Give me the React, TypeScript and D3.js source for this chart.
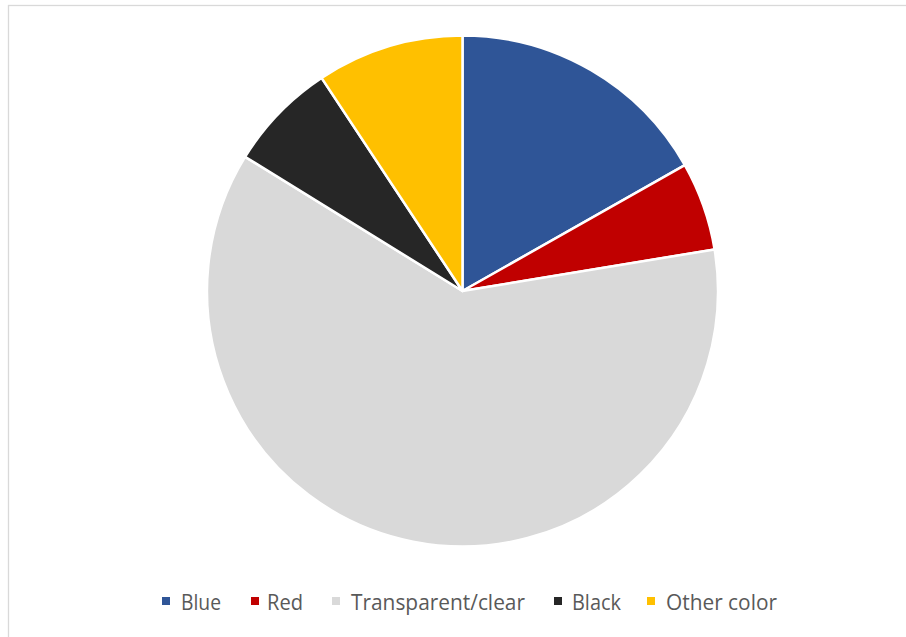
import React from "react";
import * as d3 from "d3";

const categories = ["Blue", "Red", "Transparent/clear", "Black", "Other color"];
const values = [16.8, 5.6, 61.4, 6.9, 9.3];
const colors = ["#2F5597", "#C00000", "#D9D9D9", "#262626", "#FFC000"];
const markerX = [162, 251, 332, 554, 647];
const textX = [181, 267, 351, 572, 666];
const legendW = [40, 36, 174, 49, 111];

export default function App() {
  const W = 906, H = 637;
  const cx = 462.5, cy = 291, r = 255.5;
  const pie = d3.pie<number>().sort(null).value((d) => d);
  const arcs = pie(values);
  const arc = d3.arc<d3.PieArcDatum<number>>().innerRadius(0).outerRadius(r);
  return (
    <svg width={W} height={H} style={{ position: "absolute", left: 0, top: 0 }}>
      <rect x={0} y={0} width={W} height={H} fill="#fff" />
      <rect x={8.5} y={5.5} width={W + 10} height={H + 10} fill="#fff" stroke="#D9D9D9" strokeWidth={1.3} />
      <g transform={`translate(${cx},${cy})`}>
        {arcs.map((a, i) => (
          <path key={i} d={arc(a) || ""} fill={colors[i]} stroke="#fff" strokeWidth={2.5} strokeLinejoin="round" />
        ))}
      </g>
      <g fontFamily="'Open Sans', 'Liberation Sans', sans-serif" fontSize={21} fill="#595959">
        {categories.map((c, i) => (
          <g key={c}>
            <rect x={markerX[i]} y={597} width={8} height={8} fill={colors[i]} />
            <text x={textX[i]} y={610} textLength={legendW[i]} lengthAdjust="spacingAndGlyphs">{c}</text>
          </g>
        ))}
      </g>
    </svg>
  );
}
